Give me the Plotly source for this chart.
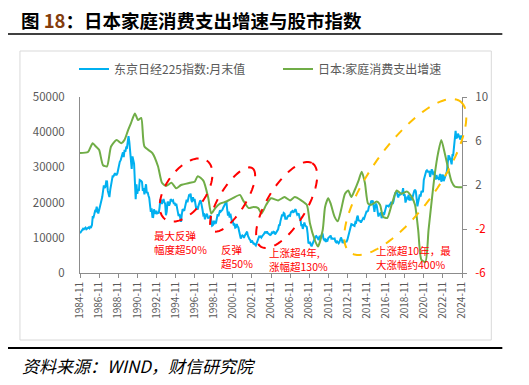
import math
import pandas as pd
import plotly.graph_objects as go

# ---------------- data ----------------
NIKKEI_START = "1984-11"
NIKKEI = [
    11300, 11543,
    11992, 12322, 12580, 12426, 12758, 12882, 12461, 12737, 12700, 12956, 12700, 13113,
    13024, 13640, 15860, 15825, 16680, 17654, 17546, 18820, 17852, 16910, 17852, 18701,
    20048, 20767, 21566, 23274, 24901, 24176, 24488, 26029, 26011, 23329, 22687, 21564,
    23622, 24902, 26260, 27434, 27417, 27769, 28340, 27912, 27924, 28329, 29579, 30159,
    31581, 31986, 32839, 33713, 34267, 32948, 34954, 34431, 35637, 35549, 37269, 38916,
    37189, 34592, 29980, 29585, 33131, 31940, 31036, 25978, 20984, 25194, 22455, 23849,
    23294, 26409, 26292, 26111, 25790, 23291, 24121, 22336, 23916, 25222, 22688, 22984,
    22023, 21339, 19346, 17391, 18348, 15952, 15910, 18061, 17399, 16767, 17684, 16925,
    17024, 17098, 18591, 20919, 20552, 19590, 20380, 21027, 20106, 19703, 16408, 17417,
    20229, 19997, 19112, 19725, 20974, 20643, 20449, 20629, 19564, 19990, 19076, 19723,
    18650, 17053, 16140, 16807, 15437, 14517, 16678, 18117, 17913, 17655, 18744, 19868,
    20813, 20125, 21407, 22041, 21956, 22531, 20692, 20167, 21556, 20467, 21020, 19361,
    18330, 18557, 18003, 19151, 20069, 20605, 20331, 18229, 17888, 16459, 16636, 15259,
    16628, 16832, 16527, 15641, 15671, 15831, 16379, 14108, 13406, 13564, 14884, 13842,
    14499, 14368, 15837, 16702, 16112, 17530, 17862, 17437, 17605, 17943, 18558, 18934,
    19540, 19960, 20337, 17974, 16332, 17411, 15727, 16861, 15747, 14540, 14649, 13786,
    13843, 12884, 12999, 13934, 13262, 12969, 11861, 10714, 9775, 10367, 10697, 10543,
    9998, 10588, 11025, 11493, 11764, 10622, 9877, 9619, 9383, 8640, 9216, 8579,
    8340, 8363, 7973, 7831, 8425, 9083, 9563, 10344, 10219, 10560, 10101, 10677,
    10784, 11042, 11715, 11762, 11236, 11859, 11326, 11082, 10824, 10771, 10899, 11489,
    11388, 11741, 11668, 11009, 11277, 11584, 11900, 12414, 13574, 13607, 14872, 16111,
    16650, 16205, 17060, 16906, 15467, 15505, 15457, 16141, 16128, 16399, 16274, 17226,
    17383, 17604, 17288, 17400, 17876, 18138, 17249, 16569, 16786, 16737, 15681, 15308,
    13592, 13604, 12526, 13850, 14339, 13481, 13377, 13073, 11260, 8577, 8512, 8860,
    7994, 7568, 8110, 8828, 9523, 9958, 10357, 10493, 10133, 10035, 9346, 10546,
    10198, 10126, 11090, 11057, 9769, 9383, 9537, 8824, 9369, 9202, 9937, 10229,
    10238, 10624, 9755, 9850, 9694, 9816, 9833, 8955, 8700, 8988, 8435, 8455,
    8803, 9723, 10084, 9521, 8543, 9007, 8695, 8840, 8870, 8928, 9446, 10395,
    11139, 11559, 12398, 13861, 13775, 13677, 13668, 13389, 14456, 14328, 15662, 16291,
    14915, 14841, 14828, 14304, 14632, 15162, 15621, 15425, 16174, 16414, 17460, 17451,
    17674, 18798, 19207, 19520, 20563, 20236, 20585, 18890, 17388, 19083, 19747, 19034,
    17518, 16027, 16759, 16666, 17235, 15576, 16569, 16887, 16450, 17425, 18308, 19114,
    19041, 19119, 18909, 19197, 19651, 20033, 19925, 19646, 20356, 22012, 22725, 22765,
    23098, 22068, 21454, 22468, 22202, 22305, 22554, 22865, 24120, 21920, 22351, 20015,
    20773, 21385, 21206, 22259, 20601, 21276, 21522, 20704, 21756, 22927, 23294, 23657,
    23205, 21143, 18917, 20194, 21878, 22288, 21710, 23140, 23185, 22977, 26434, 27444,
    27663, 28966, 29179, 28813, 28860, 28792, 27284, 28090, 29453, 28893, 27822, 28792,
    27002, 26527, 27821, 26848, 27280, 26393, 27802, 28092, 25937, 27587, 27969, 26095,
    27327, 27446, 28041, 28856, 30888, 33189, 33172, 32619, 31858, 30859, 33487, 33464,
    36287, 39166, 40369, 38406, 38488, 39583, 39102, 38648, 37920, 39081, 38208,
]

GROWTH_DATES = [
    "1984-11", "1985-09", "1986-03", "1986-07", "1986-11", "1987-04", "1987-09",
    "1988-02", "1988-09", "1989-03", "1989-07", "1989-11", "1990-03", "1990-08",
    "1990-12", "1991-04", "1991-08", "1992-06", "1993-01", "1993-06", "1993-11",
    "1994-06", "1994-12", "1995-06", "1996-05", "1996-11", "1997-03", "1997-10",
    "1998-04", "1998-08", "1999-01", "1999-07", "2000-03", "2000-11", "2001-08",
    "2001-12", "2002-07", "2003-01", "2003-07", "2003-11", "2004-05", "2004-11",
    "2005-08", "2006-04", "2006-11", "2007-05", "2008-01", "2008-08", "2008-12",
    "2009-06", "2009-10", "2010-04", "2010-07", "2010-11", "2011-02", "2011-07",
    "2011-11", "2012-03", "2012-08", "2012-12", "2013-04", "2013-08", "2014-01",
    "2014-05", "2014-09", "2015-01", "2015-05", "2015-12", "2016-04", "2016-08",
    "2017-01", "2017-07", "2018-01", "2018-07", "2019-02", "2019-08", "2019-12",
    "2020-04", "2020-08", "2021-01", "2021-05", "2021-09", "2022-01", "2022-05",
    "2022-09", "2023-01", "2023-06", "2023-10", "2024-02", "2024-11",
]
GROWTH = [
    4.9, 5.0, 5.8, 5.5, 5.2, 3.8, 3.7,
    5.5, 6.1, 5.8, 6.1, 6.9, 7.6, 8.5,
    7.9, 8.1, 5.5, 4.9, 3.7, 2.2, 1.9,
    2.2, 1.7, 2.0, 2.2, 2.3, 2.8, 2.4,
    0.9, -0.6, -0.1, 0.3, 0.5, 0.8, 1.1,
    0.6, -0.1, 0.0, -0.1, -0.6, 0.2, 0.8,
    0.6, 0.9, 0.6, 0.9, 0.6, 0.2, -1.5,
    -3.0, -3.6, -2.1, 0.0, 0.8, 0.3, -0.9,
    -1.3, -0.3, 1.2, 1.5, 0.9, 1.5, 2.4,
    3.2, 2.2, 0.3, 0.2, 0.5, 0.2, -0.9,
    -1.0, 0.3, 1.5, 1.2, 1.4, 0.9, 0.2,
    -2.1, -4.8, -5.0, -2.1, 0.6, 3.1, 4.9,
    6.1, 5.0, 3.4, 2.3, 1.85, 1.8,
]

X_TICK_DATES = ["1984-11-01", "1986-11-01", "1988-11-01", "1990-11-01", "1992-11-01",
                "1994-11-01", "1996-11-01", "1998-11-01", "2000-11-01", "2002-11-01",
                "2004-11-01", "2006-11-01", "2008-11-01", "2010-11-01", "2012-11-01",
                "2014-11-01", "2016-11-01", "2018-11-01", "2020-11-01", "2022-11-01",
                "2024-11-01"]
X_TICK_LABELS = ["1984-11", "1986-11", "1988-11", "1990-11", "1992-11", "1994-11",
                 "1996-11", "1998-11", "2000-11", "2002-11", "2004-11", "2006-11",
                 "2008-11", "2010-11", "2012-11", "2014-11", "2016-11", "2018-11",
                 "2020-11", "2022-11", "2024-11"]
LEFT_TICKS = [0, 10000, 20000, 30000, 40000, 50000]
LEFT_TICK_LABELS = ["0", "10000", "20000", "30000", "40000", "50000"]
RIGHT_TICKS = [-6, -2, 2, 6, 10]
RIGHT_TICK_COLORS = ["#FF0000", "#FF0000", "#595959", "#595959", "#595959"]

SERIES_NAMES = ["东京日经225指数:月末值", "日本:家庭消费支出增速"]
NOTES = ["最大反弹<br>幅度超50%", "反弹<br>超50%", "上涨超4年,<br>涨幅超130%",
         "上涨超10年，最<br>大涨幅约400%"]

# ---------------- layout helpers ----------------
# the page body has an 8px margin, so the figure is drawn 8px in from the window corner
BODY = 8
WIN_W, WIN_H = 529, 385
W, H = WIN_W - 2 * BODY, WIN_H - 2 * BODY
# plot area in window pixels
RL, RR, RT, RB = 80, 461.7, 97, 273


def px(x):
    return (x - RL) / (RR - RL)


def py(y):
    return (RB - y) / (RB - RT)


def ellipse_path(cx, cy, a, b, theta_deg, n=90):
    th = math.radians(theta_deg)
    pts = []
    for i in range(n):
        t = 2 * math.pi * i / n
        x = cx + a * math.cos(t) * math.cos(th) + b * math.sin(t) * math.sin(th)
        y = cy - a * math.cos(t) * math.sin(th) + b * math.sin(t) * math.cos(th)
        pts.append(f"{px(x):.5f},{py(y):.5f}")
    return "M" + " L".join(pts) + " Z"


FONT = "Noto Sans CJK SC, sans-serif"
GRAY = "#595959"
AXIS = "#8C8C8C"

nikkei_dates = pd.date_range(NIKKEI_START, periods=len(NIKKEI), freq="MS")

fig = go.Figure()
fig.add_trace(go.Scatter(x=nikkei_dates, y=NIKKEI, name=SERIES_NAMES[0], mode="lines",
                         line=dict(color="#00B0F0", width=2), yaxis="y"))
fig.add_trace(go.Scatter(x=GROWTH_DATES, y=GROWTH, name=SERIES_NAMES[1], mode="lines",
                         line=dict(color="#70AD47", width=2, shape="spline", smoothing=0.6),
                         yaxis="y2"))

shapes = [
    dict(type="rect", xref="paper", yref="paper", x0=px(20), x1=px(491), y0=py(340), y1=py(51),
         line=dict(color="#D9D9D9", width=1), layer="below"),
    dict(type="line", xref="paper", yref="paper", x0=px(8), x1=px(502), y0=py(34), y1=py(34),
         line=dict(color="black", width=1.5)),
    dict(type="line", xref="paper", yref="paper", x0=px(8), x1=px(502), y0=py(348), y1=py(348),
         line=dict(color="black", width=2)),
]
for (cx, cy, a, b, th) in [(186, 190, 36, 20, 55), (232.5, 199.5, 37, 13, 58), (286.5, 205, 49, 19.6, 58.6)]:
    shapes.append(dict(type="path", xref="paper", yref="paper", path=ellipse_path(cx, cy, a, b, th),
                       line=dict(color="#FF0000", width=2, dash="dash")))
shapes.append(dict(type="path", xref="paper", yref="paper", path=ellipse_path(405, 177, 93.5, 32.7, 54),
                   line=dict(color="#FFC000", width=2, dash="dash")))

annotations = [
    dict(xref="paper", yref="paper", x=px(20), y=py(20), xanchor="left", yanchor="middle",
         text="<b>图 <span style='color:#843C0C'>18</span>：日本家庭消费支出增速与股市指数</b>",
         showarrow=False, borderpad=0, font=dict(family=FONT, size=18.5, color="black")),
    dict(xref="paper", yref="paper", x=px(20), y=py(365), xanchor="left", yanchor="middle",
         text="<i>资料来源：WIND，财信研究院</i>", showarrow=False,
         font=dict(family=FONT, size=17, color="black")),
]
for (x, y), txt in zip([(152, 242.5), (219, 256), (267, 259.5), (374, 257.5)], NOTES):
    annotations.append(dict(xref="paper", yref="paper", x=px(x), y=py(y), xanchor="left",
                            yanchor="middle", align="left", text=txt, showarrow=False,
                            font=dict(family=FONT, size=10.5, color="#FF0000")))

fig.update_layout(
    width=W, height=H,
    margin=dict(l=RL - BODY, r=W - (RR - BODY), t=RT - BODY, b=H - (RB - BODY), pad=0),
    paper_bgcolor="white", plot_bgcolor="white",
    font=dict(family=FONT, color=GRAY),
    showlegend=True,
    legend=dict(orientation="h", x=px(74), xanchor="left", y=py(69), yanchor="middle",
                font=dict(family=FONT, size=12, color=GRAY), bgcolor="rgba(0,0,0,0)",
                entrywidth=159, entrywidthmode="pixels"),
    xaxis=dict(type="date", range=["1984-11-01", "2024-11-01"], tickvals=X_TICK_DATES,
               ticktext=X_TICK_LABELS, tickangle=-90, ticks="outside", ticklen=4,
               tickcolor=AXIS, showline=True, linecolor=AXIS, linewidth=1, showgrid=False,
               zeroline=False, automargin=False, tickfont=dict(family=FONT, size=10, color=GRAY)),
    yaxis=dict(range=[0, 50000], tickvals=LEFT_TICKS, ticktext=LEFT_TICK_LABELS, ticks="",
               showline=True, linecolor=AXIS, linewidth=1, showgrid=False, zeroline=False,
               automargin=False, ticklabelstandoff=12,
               tickfont=dict(family=FONT, size=11.5, color=GRAY)),
    yaxis2=dict(range=[-6, 10], overlaying="y", side="right", tickvals=RIGHT_TICKS,
                ticktext=[f"<span style='color:{c}'>{v}</span>" for v, c in zip(RIGHT_TICKS, RIGHT_TICK_COLORS)],
                ticks="outside", ticklen=4, tickcolor=AXIS, showline=True, linecolor=AXIS,
                linewidth=1, showgrid=False, zeroline=False, automargin=False, ticklabelstandoff=6,
                tickfont=dict(family=FONT, size=11.5, color=GRAY)),
    shapes=shapes,
    annotations=annotations,
)

fig.write_html("out.html")
